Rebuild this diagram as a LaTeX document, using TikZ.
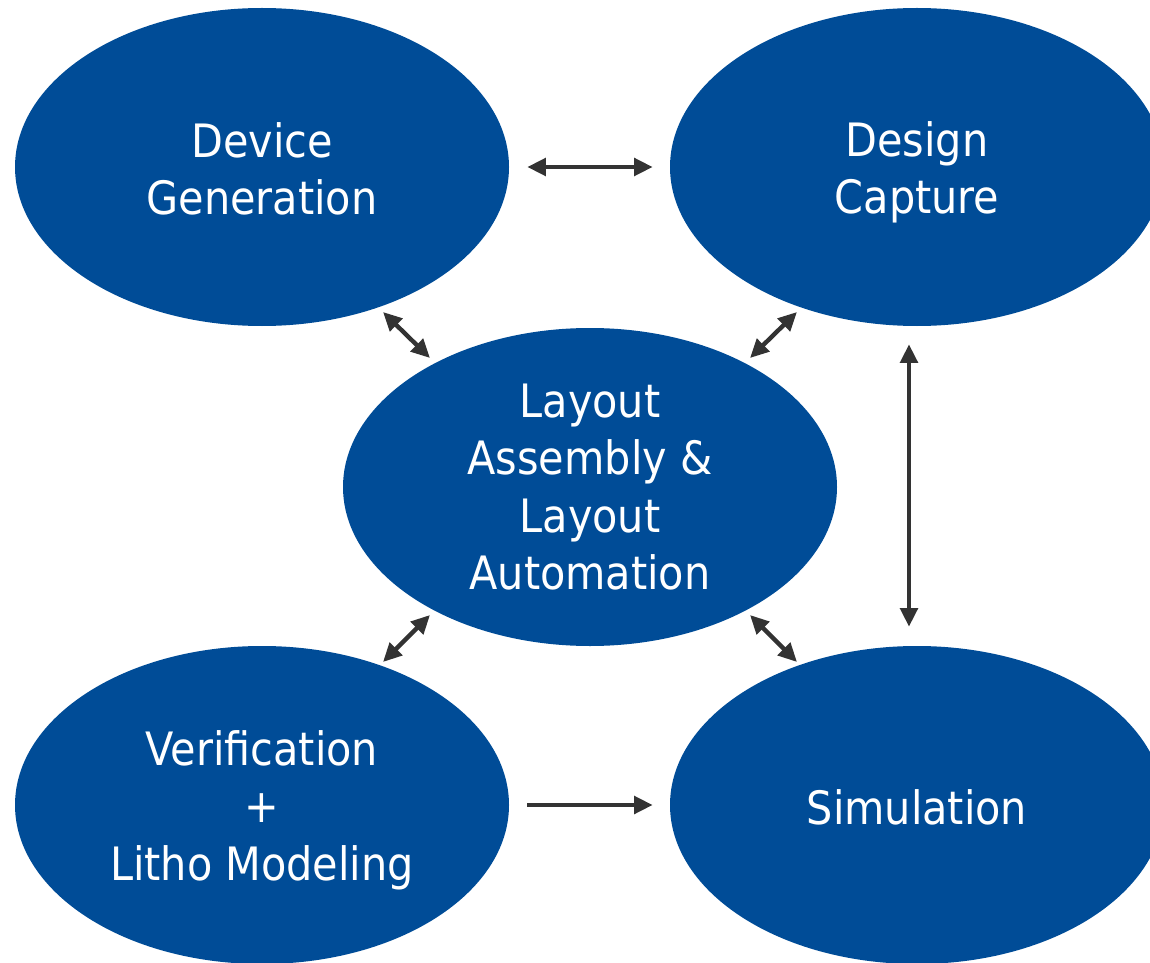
\documentclass[tikz,border=0pt]{standalone}
\usepackage{fontspec}
\setmainfont{DejaVu Sans Condensed}
\usetikzlibrary{shapes.geometric,arrows.meta}
\definecolor{stageblue}{HTML}{004C97}
\definecolor{arrowgray}{HTML}{333333}
\begin{document}
\begin{tikzpicture}[x=0.75pt,y=-0.75pt,
  stage/.style={ellipse,fill=stageblue,minimum width=370.5pt,minimum height=238.5pt,inner sep=0pt},
  stagetext/.style={text=white,inner sep=0pt,align=center,font=\fontsize{34.5pt}{43pt}\selectfont},
  link/.style={draw=arrowgray,line width=3.3pt,{Triangle[length=14pt,width=13pt]}-{Triangle[length=14pt,width=13pt]}},
  flow/.style={draw=arrowgray,line width=3.3pt,-{Triangle[length=14pt,width=13pt]}}]
\useasboundingbox (0,0) rectangle (1150,963);
\clip (0,0) rectangle (1150,963);
% the five stages
\node[stage] (dev) at (262,167) {};
\node[stage] (cap) at (917,167) {};
\node[stage] (lay) at (590,487) {};
\node[stage] (ver) at (262,805) {};
\node[stage] (sim) at (917,805) {};
\node[stagetext] (devtext) at ([shift={(0,2)}]dev.center) {Device\\Generation};
\node[stagetext] (captext) at ([shift={(0,5)}]cap.center) {Design\\Capture};
\node[stagetext] (laytext) at (lay.center) {Layout\\Assembly \&\\Layout\\Automation};
\node[stagetext] (vertext) at ([shift={(0,5)}]ver.center) {Verification\\+\\Litho Modeling};
\node[stagetext] (simtext) at ([shift={(0,2)}]sim.center) {Simulation};
% horizontal links
\draw[link] ([shift={(18,0)}]dev.east) -- ([shift={(-17,0)}]cap.west);
\draw[flow] ([shift={(18,0)}]ver.east) -- ([shift={(-17,0)}]sim.west);
% vertical link on the right
\draw[link] ([shift={(-8,18)}]cap.south) -- ([shift={(-8,-19)}]sim.north);
% diagonal links to the centre
\draw[link] ([shift={(121,145)}]dev.center) -- ([shift={(-160,-129)}]lay.center);
\draw[link] ([shift={(-120,145)}]cap.center) -- ([shift={(160,-129)}]lay.center);
\draw[link] ([shift={(-160,128)}]lay.center) -- ([shift={(121,-143)}]ver.center);
\draw[link] ([shift={(160,128)}]lay.center) -- ([shift={(-120,-143)}]sim.center);
\end{tikzpicture}
\end{document}
